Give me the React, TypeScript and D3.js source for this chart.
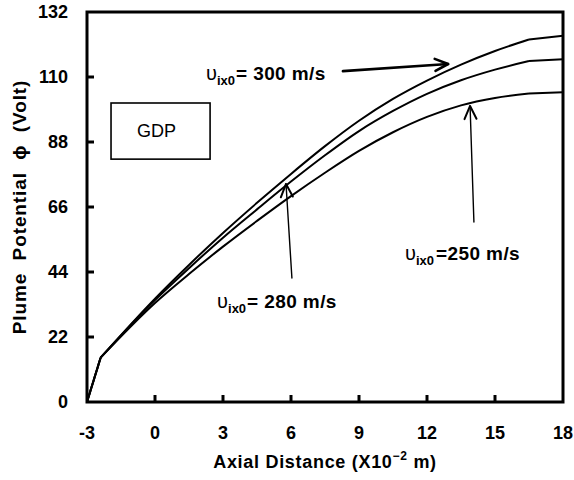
import React from "react";
import * as d3 from "d3";

const xTicks = [-3, 0, 3, 6, 9, 12, 15, 18];
const yTicks = [0, 22, 44, 66, 88, 110, 132];
const distance = [-3, -2.4, 0, 1.5, 3, 4.5, 6, 7.5, 9, 10.5, 12, 13.5, 15, 16.5, 18];
const phi300 = [0, 15, 35, 46.4, 57.2, 67.4, 77.2, 86.6, 95.2, 102.6, 108.8, 114.2, 118.8, 122.7, 124];
const phi280 = [0, 15, 34.5, 45.3, 55.6, 65.2, 74.6, 83.5, 91.7, 98.5, 104.3, 108.9, 112.5, 115.4, 116];
const phi250 = [0, 15, 33.5, 43.3, 52.6, 61.3, 69.7, 77.6, 85, 91.3, 96.5, 100.4, 102.9, 104.4, 104.8];
const seriesList = [phi300, phi280, phi250];

const labels = [
  { value: "300", eq: "= 300 m/s", x: 2.25, y: 109 },
  { value: "280", eq: "= 280 m/s", x: 2.74, y: 31.8 },
  { value: "250", eq: "=250 m/s", x: 11.03, y: 48 },
];
const arrows = [
  { from: [8.29, 112.0], to: [12.93, 114.4], w: 2.6 },
  { from: [6.04, 41.96], to: [5.78, 73.8], w: 1.4 },
  { from: [14.07, 60.9], to: [13.9, 100.2], w: 1.4 },
];
const gdpBox = { x0: -1.94, x1: 2.43, y0: 101.2, y1: 82.2 };

const W = 574;
const H = 480;
const M = { left: 87, top: 12, right: 11, bottom: 78 };
const FONT = "'Liberation Sans', Arial, sans-serif";

export default function App() {
  const x = d3.scaleLinear().domain([-3, 18]).range([M.left, W - M.right]);
  const y = d3.scaleLinear().domain([0, 132]).range([H - M.bottom, M.top]);
  const pts = (s: number[]) => s.map((v, i) => [x(distance[i]), y(v)] as [number, number]);
  const smooth = d3.line().curve(d3.curveMonotoneX);
  const straight = d3.line();

  const x0 = x(-3), x1 = x(18), y0 = y(0), y1 = y(132);

  return (
    <svg
      width={W}
      height={H}
      style={{ position: "absolute", left: 0, top: 0, background: "#fff" }}
      fontFamily={FONT}
    >
      <rect x={0} y={0} width={W} height={H} fill="#fff" />
      {/* curves */}
      {seriesList.map((s, i) => {
        const p = pts(s);
        const n = p.length;
        return (
          <g key={i} fill="none" stroke="#000" strokeWidth={2} strokeLinejoin="round">
            <path d={straight(p.slice(0, 2)) || ""} />
            <path d={smooth(p.slice(1, n - 1)) || ""} />
            <path d={straight(p.slice(n - 2)) || ""} />
          </g>
        );
      })}
      {/* frame */}
      <rect x={x0} y={y1} width={x1 - x0} height={y0 - y1} fill="none" stroke="#000" strokeWidth={3} />
      {/* y ticks */}
      {yTicks.map((t) => (
        <g key={"y" + t}>
          {t > 0 && t < 132 && <line x1={x0} x2={x0 + 7} y1={y(t)} y2={y(t)} stroke="#000" strokeWidth={3} />}
          <text x={68} y={y(t)} dy="0.35em" textAnchor="end" fontSize={18} fontWeight="bold">
            {t}
          </text>
        </g>
      ))}
      {/* x ticks */}
      {xTicks.map((t) => (
        <g key={"x" + t}>
          {t > -3 && t < 18 && <line x1={x(t)} x2={x(t)} y1={y0} y2={y0 - 7} stroke="#000" strokeWidth={3} />}
          <text x={x(t)} y={439} textAnchor="middle" fontSize={18} fontWeight="bold">
            {t}
          </text>
        </g>
      ))}
      {/* axis titles */}
      <text x={(x0 + x1) / 2} y={468} textAnchor="middle" fontSize={18} fontWeight="bold" letterSpacing={0.7}>
        Axial Distance (X10
        <tspan fontSize={12} dy={-8}>−2</tspan>
        <tspan dy={8}> m)</tspan>
      </text>
      <text
        transform={`translate(26,${(y0 + y1) / 2}) rotate(-90)`}
        textAnchor="middle"
        fontSize={19}
        fontWeight="bold"
        letterSpacing={0.9}
        style={{ whiteSpace: "pre" }}
      >
        {"Plume  Potential  ϕ  (Volt)"}
      </text>
      {/* GDP box */}
      <rect
        x={x(gdpBox.x0)}
        y={y(gdpBox.y0)}
        width={x(gdpBox.x1) - x(gdpBox.x0)}
        height={y(gdpBox.y1) - y(gdpBox.y0)}
        fill="#fff"
        stroke="#000"
        strokeWidth={1.6}
      />
      <text
        x={(x(gdpBox.x0) + x(gdpBox.x1)) / 2 - 4}
        y={(y(gdpBox.y0) + y(gdpBox.y1)) / 2}
        dy="0.35em"
        textAnchor="middle"
        fontSize={18}
      >
        GDP
      </text>
      {/* arrows */}
      {arrows.map((a, i) => {
        const tx = x(a.from[0]), ty = y(a.from[1]);
        const hx = x(a.to[0]), hy = y(a.to[1]);
        const ang = Math.atan2(hy - ty, hx - tx);
        const L = 13, Wd = 6;
        const bx = hx - L * Math.cos(ang), by = hy - L * Math.sin(ang);
        const px = -Math.sin(ang) * Wd, py = Math.cos(ang) * Wd;
        return (
          <g key={"a" + i} stroke="#000" fill="none" strokeWidth={a.w} strokeLinecap="round" strokeLinejoin="round">
            <line x1={tx} y1={ty} x2={hx} y2={hy} />
            <polyline points={`${bx + px},${by + py} ${hx},${hy} ${bx - px},${by - py}`} strokeWidth={Math.max(2, a.w)} />
          </g>
        );
      })}
      {/* labels */}
      {labels.map((l) => (
        <text key={l.value} x={x(l.x)} y={y(l.y)} fontSize={19}>
          <tspan fontSize={20}>υ</tspan>
          <tspan fontSize={13} fontWeight="bold" dy={5}>ix0</tspan>
          <tspan fontWeight="bold" dy={-5} dx={l.value === "250" ? 2 : 1} letterSpacing={0.4}>{l.eq}</tspan>
        </text>
      ))}
    </svg>
  );
}
